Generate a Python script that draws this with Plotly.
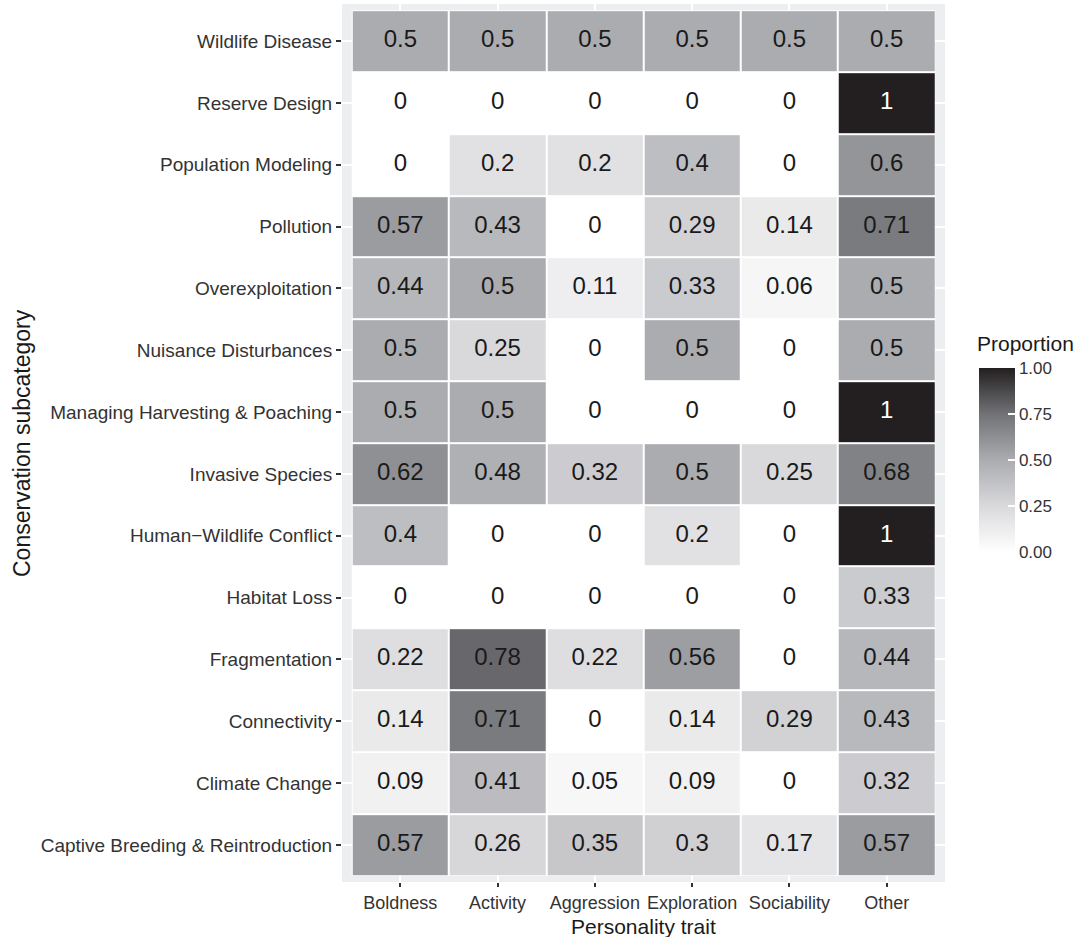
import plotly.graph_objects as go

traits = ["Boldness", "Activity", "Aggression", "Exploration", "Sociability", "Other"]
subcategories = [
    "Wildlife Disease",
    "Reserve Design",
    "Population Modeling",
    "Pollution",
    "Overexploitation",
    "Nuisance Disturbances",
    "Managing Harvesting & Poaching",
    "Invasive Species",
    "Human\u2212Wildlife Conflict",
    "Habitat Loss",
    "Fragmentation",
    "Connectivity",
    "Climate Change",
    "Captive Breeding & Reintroduction",
]
proportions = [
    [0.5, 0.5, 0.5, 0.5, 0.5, 0.5],
    [0, 0, 0, 0, 0, 1],
    [0, 0.2, 0.2, 0.4, 0, 0.6],
    [0.57, 0.43, 0, 0.29, 0.14, 0.71],
    [0.44, 0.5, 0.11, 0.33, 0.06, 0.5],
    [0.5, 0.25, 0, 0.5, 0, 0.5],
    [0.5, 0.5, 0, 0, 0, 1],
    [0.62, 0.48, 0.32, 0.5, 0.25, 0.68],
    [0.4, 0, 0, 0.2, 0, 1],
    [0, 0, 0, 0, 0, 0.33],
    [0.22, 0.78, 0.22, 0.56, 0, 0.44],
    [0.14, 0.71, 0, 0.14, 0.29, 0.43],
    [0.09, 0.41, 0.05, 0.09, 0, 0.32],
    [0.57, 0.26, 0.35, 0.3, 0.17, 0.57],
]
legend_ticks = [0, 0.25, 0.5, 0.75, 1]

FONT = "Liberation Sans, Arial, sans-serif"
colorscale = [
    [0.0, "#FFFFFF"],
    [0.25, "#D9D9DC"],
    [0.5, "#ABACB0"],
    [0.75, "#717276"],
    [1.0, "#231F20"],
]

nx, ny = len(traits), len(subcategories)

fig = go.Figure()

fig.add_trace(go.Heatmap(
    x=traits, y=subcategories, z=proportions,
    zmin=0, zmax=1, colorscale=colorscale,
    xgap=2, ygap=2, hoverinfo="skip",
    colorbar=dict(
        thickness=36, lenmode="pixels", len=184,
        x=1.0564, xanchor="left", xpad=0,
        y=0.4806, yanchor="middle", ypad=0,
        outlinewidth=0,
        tickvals=legend_ticks, ticktext=[f"{v:.2f}" for v in legend_ticks],
        ticks="inside", ticklen=7, tickcolor="white", tickwidth=1.5,
        tickfont=dict(family=FONT, size=17, color="#333333"),
    ),
))

tx, ty, tt, tc = [], [], [], []
for i, row in enumerate(proportions):
    for j, v in enumerate(row):
        tx.append(traits[j])
        ty.append(subcategories[i])
        tt.append(f"{v:g}")
        tc.append("white" if v >= 0.9 else "#1a1a1a")

fig.add_trace(go.Scatter(
    x=tx, y=ty, text=tt, mode="text",
    textfont=dict(family=FONT, size=24, color=tc),
    hoverinfo="skip", showlegend=False,
))

fig.add_shape(type="rect", xref="x", yref="y",
              x0=-0.5, x1=nx - 0.5, y0=-0.5, y1=ny - 0.5,
              fillcolor="white", line=dict(width=0), layer="below")

fig.update_xaxes(
    type="category", categoryorder="array", categoryarray=traits,
    range=[-0.6, nx - 0.4], showgrid=True, gridcolor="white", gridwidth=2,
    zeroline=False, showline=False,
    ticks="outside", ticklen=4, tickwidth=1.5, tickcolor="#333333",
    tickfont=dict(family=FONT, size=18, color="#333333"),
)
fig.update_yaxes(
    type="category", categoryorder="array", categoryarray=subcategories,
    range=[ny - 0.4, -0.6], showgrid=True, gridcolor="white", gridwidth=2,
    zeroline=False, showline=False,
    ticks="outside", ticklen=5, tickwidth=1.5, tickcolor="#333333",
    tickfont=dict(family=FONT, size=19, color="#333333"),
)

fig.add_annotation(text="Personality trait", xref="paper", yref="paper",
                   x=0.5, y=-0.0655, xanchor="center", yanchor="bottom",
                   showarrow=False, font=dict(family=FONT, size=21, color="#1a1a1a"))
fig.add_annotation(text="Conservation subcategory", xref="paper", yref="paper",
                   x=-0.5307, y=0.5, xanchor="center", yanchor="middle", textangle=-90,
                   showarrow=False, font=dict(family=FONT, size=23, color="#1a1a1a"))
fig.add_annotation(text="Proportion", xref="paper", yref="paper",
                   x=1.0498, y=0.6128, xanchor="left", yanchor="middle",
                   showarrow=False, font=dict(family=FONT, size=21, color="#1a1a1a"))

fig.update_layout(
    width=1091, height=937,
    margin=dict(l=342, r=146, t=4, b=55),
    paper_bgcolor="white", plot_bgcolor="#EDEEF0",
    font=dict(family=FONT),
    showlegend=False,
)

fig.write_html("out.html")
